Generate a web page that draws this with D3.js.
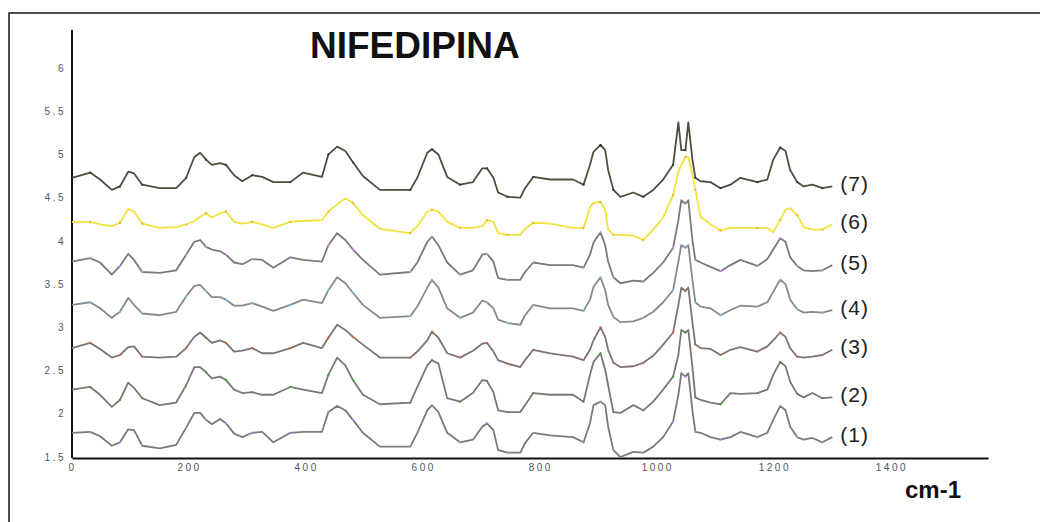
<!DOCTYPE html>
<html>
<head>
<meta charset="utf-8">
<script src="https://cdn.jsdelivr.net/npm/d3@7"></script>
<style>
html, body { margin: 0; padding: 0; background: #fff; }
svg { display: block; font-family: Arial, "Liberation Sans", sans-serif; }
</style>
</head>
<body>
<svg id="chart" width="1040" height="522"></svg>
<script>
'use strict';

// ─── Data ──────────────────────────────────────────────────────────────────
const wavenumbers = [0,31,48,68,82,96,106,120,150,178,195,209,219,229,239,253,263,277,291,308,
  325,344,373,395,427,438,453,467,480,497,526,578,590,607,615,626,641,663,685,701,
  709,720,728,744,766,774,788,817,856,874,885,891,903,911,916,925,937,959,976,993,
  1010,1027,1036,1041,1048,1053,1060,1065,1074,1091,1108,1125,1142,1171,1188,1198,1210,1219,1227,1239,
  1250,1265,1282,1299];

const spectrum1 = [1.78,1.79,1.74,1.63,1.67,1.82,1.81,1.63,1.60,1.64,
  1.84,2.01,2.01,1.93,1.88,1.94,1.89,1.77,1.73,1.78,
  1.79,1.67,1.78,1.79,1.79,2.02,2.09,2.04,1.93,1.78,
  1.62,1.62,1.78,2.04,2.10,2.02,1.78,1.67,1.70,1.85,
  1.89,1.81,1.58,1.55,1.55,1.66,1.78,1.75,1.73,1.67,
  1.89,2.10,2.14,2.10,1.85,1.58,1.50,1.56,1.55,1.62,
  1.73,1.91,2.22,2.47,2.43,2.47,2.04,1.79,1.78,1.73,
  1.70,1.73,1.79,1.73,1.78,1.93,2.09,2.04,1.85,1.73,
  1.70,1.72,1.67,1.73];

const spectrum2 = [2.28,2.31,2.22,2.08,2.16,2.36,2.30,2.18,2.10,2.13,
  2.33,2.54,2.54,2.48,2.41,2.43,2.39,2.28,2.24,2.25,
  2.22,2.22,2.31,2.28,2.24,2.45,2.65,2.56,2.39,2.22,
  2.11,2.13,2.31,2.56,2.62,2.58,2.18,2.14,2.24,2.39,
  2.38,2.25,2.04,2.02,2.02,2.10,2.24,2.22,2.22,2.14,
  2.45,2.60,2.70,2.51,2.33,2.02,2.01,2.10,2.04,2.14,
  2.28,2.43,2.68,2.97,2.94,2.97,2.54,2.19,2.16,2.13,
  2.11,2.24,2.23,2.24,2.28,2.45,2.60,2.55,2.37,2.23,
  2.19,2.24,2.18,2.19];

const spectrum3 = [2.76,2.82,2.75,2.65,2.68,2.77,2.78,2.66,2.65,2.66,
  2.76,2.89,2.94,2.88,2.82,2.85,2.82,2.72,2.73,2.76,
  2.70,2.70,2.76,2.82,2.76,2.88,3.03,2.97,2.89,2.80,
  2.65,2.65,2.72,2.85,2.95,2.88,2.70,2.65,2.73,2.81,
  2.82,2.72,2.62,2.58,2.54,2.62,2.74,2.70,2.66,2.62,
  2.74,2.85,3.00,2.89,2.74,2.59,2.54,2.55,2.59,2.67,
  2.80,2.94,3.26,3.46,3.42,3.46,3.06,2.80,2.76,2.75,
  2.68,2.74,2.77,2.72,2.78,2.85,2.94,2.89,2.76,2.66,
  2.65,2.66,2.68,2.74];

const spectrum4 = [3.26,3.29,3.22,3.11,3.18,3.34,3.26,3.16,3.14,3.18,
  3.36,3.48,3.49,3.42,3.35,3.35,3.32,3.25,3.25,3.28,
  3.24,3.19,3.26,3.32,3.28,3.43,3.58,3.51,3.40,3.26,
  3.11,3.13,3.24,3.46,3.55,3.46,3.22,3.11,3.17,3.31,
  3.29,3.22,3.09,3.05,3.03,3.14,3.26,3.22,3.22,3.19,
  3.32,3.47,3.58,3.43,3.26,3.12,3.06,3.07,3.11,3.18,
  3.29,3.43,3.76,3.95,3.92,3.95,3.55,3.29,3.24,3.22,
  3.14,3.20,3.25,3.24,3.29,3.41,3.55,3.50,3.32,3.21,
  3.17,3.18,3.17,3.20];

const spectrum5 = [3.76,3.80,3.75,3.61,3.71,3.85,3.78,3.64,3.63,3.66,
  3.84,3.99,4.01,3.93,3.90,3.88,3.84,3.75,3.73,3.79,
  3.78,3.69,3.81,3.78,3.76,3.95,4.09,4.01,3.90,3.78,
  3.61,3.64,3.75,3.99,4.05,3.95,3.75,3.61,3.66,3.84,
  3.85,3.76,3.57,3.55,3.55,3.64,3.75,3.72,3.72,3.69,
  3.84,3.98,4.10,3.95,3.76,3.58,3.51,3.54,3.53,3.63,
  3.75,3.92,4.24,4.47,4.43,4.47,4.01,3.78,3.75,3.70,
  3.65,3.72,3.78,3.71,3.79,3.90,4.03,3.99,3.81,3.71,
  3.66,3.65,3.66,3.72];

const spectrum6 = [4.22,4.22,4.19,4.17,4.21,4.37,4.34,4.20,4.15,4.16,
  4.19,4.23,4.28,4.32,4.27,4.32,4.34,4.22,4.20,4.22,
  4.19,4.15,4.22,4.23,4.24,4.34,4.42,4.49,4.44,4.30,
  4.14,4.09,4.17,4.34,4.36,4.34,4.22,4.15,4.15,4.17,
  4.24,4.22,4.09,4.07,4.07,4.14,4.21,4.20,4.15,4.15,
  4.39,4.44,4.45,4.36,4.13,4.07,4.07,4.06,4.01,4.13,
  4.27,4.53,4.80,4.88,4.97,4.97,4.76,4.59,4.28,4.19,
  4.12,4.15,4.15,4.15,4.15,4.10,4.24,4.36,4.38,4.30,
  4.16,4.13,4.13,4.19];

const spectrum7 = [4.73,4.79,4.71,4.59,4.63,4.80,4.78,4.65,4.61,4.61,
  4.73,4.97,5.02,4.94,4.88,4.90,4.88,4.76,4.69,4.76,
  4.74,4.68,4.68,4.79,4.74,5.00,5.09,5.04,4.91,4.75,
  4.59,4.59,4.73,5.02,5.06,5.00,4.74,4.65,4.68,4.84,
  4.84,4.73,4.56,4.51,4.50,4.61,4.74,4.71,4.71,4.65,
  4.88,5.03,5.11,5.05,4.82,4.59,4.51,4.56,4.51,4.59,
  4.71,4.88,5.37,5.05,5.05,5.37,4.94,4.73,4.69,4.68,
  4.61,4.65,4.73,4.68,4.71,4.94,5.08,5.04,4.82,4.68,
  4.63,4.65,4.61,4.63];

const seriesLabels = ['(1)', '(2)', '(3)', '(4)', '(5)', '(6)', '(7)'];
const xTickValues  = [0, 200, 400, 600, 800, 1000, 1200, 1400];
const yTickValues  = [1.5, 2, 2.5, 3, 3.5, 4, 4.5, 5, 5.5, 6];

// line colour + colour of the little dithering specks on each trace
const lineColors  = ['#7a7a7a', '#767a72', '#7d7470', '#858a8c', '#7d7880', '#f1e33c', '#4e4e40'];
const speckColors = ['#9c9cf0', '#3c9c2c', '#d0643c', '#7cc8f0', '#d890f0', '#e8a030', '#2c2c20'];

const series = [spectrum1, spectrum2, spectrum3, spectrum4, spectrum5, spectrum6, spectrum7]
  .map(function (vals, i) {
    return {
      label: seriesLabels[i],
      points: vals.map(function (v, j) { return [wavenumbers[j], v]; })
    };
  });

// ─── Scales ────────────────────────────────────────────────────────────────
const svg = d3.select('#chart');

const x = d3.scaleLinear().domain([0, 1565]).range([72, 988]);
const y = d3.scaleLinear().domain([1.5, 6]).range([457, 68]);

// outer frame (right/bottom edges fall outside the picture)
svg.append('rect')
  .attr('x', 9).attr('y', 13)
  .attr('width', 1045).attr('height', 530)
  .attr('fill', 'none')
  .attr('stroke', '#222')
  .attr('stroke-width', 1.6);

// ─── Axes ──────────────────────────────────────────────────────────────────
const yAxis = svg.append('g')
  .attr('transform', 'translate(' + x(0) + ',0)')
  .call(d3.axisLeft(y).tickValues(yTickValues).tickSize(0).tickPadding(6)
    .tickFormat(function (d) { return String(d); }));
yAxis.select('.domain').remove();
yAxis.selectAll('text')
  .attr('font-size', 10)
  .attr('letter-spacing', 2.5)
  .attr('fill', '#555');

svg.append('line')
  .attr('x1', x(0)).attr('x2', x(0))
  .attr('y1', y(1.5) + 1).attr('y2', y(6.44))
  .attr('stroke', '#111')
  .attr('stroke-width', 2);

const xAxis = svg.append('g')
  .attr('transform', 'translate(0,' + (y(1.5) + 1) + ')')
  .call(d3.axisBottom(x).tickValues(xTickValues).tickSize(0).tickPadding(6)
    .tickFormat(d3.format('d')));
xAxis.select('.domain')
  .attr('stroke', '#111')
  .attr('stroke-width', 2);
xAxis.selectAll('text')
  .attr('font-size', 10)
  .attr('letter-spacing', 2.5)
  .attr('fill', '#555');

// ─── Spectra ───────────────────────────────────────────────────────────────
const line = d3.line()
  .x(function (d) { return x(d[0]); })
  .y(function (d) { return y(d[1]); });

const traces = svg.append('g').attr('class', 'traces');

series.forEach(function (s, i) {
  traces.append('path')
    .datum(s.points)
    .attr('d', line)
    .attr('fill', 'none')
    .attr('stroke', lineColors[i])
    .attr('stroke-width', 1.8)
    .attr('stroke-linejoin', 'round');

  traces.selectAll('.speck-' + i)
    .data(s.points.filter(function (d, j) { return j % 3 === 1; }))
    .enter()
    .append('rect')
    .attr('class', 'speck-' + i)
    .attr('x', function (d) { return x(d[0]) - 1; })
    .attr('y', function (d) { return y(d[1]) - 1; })
    .attr('width', 2).attr('height', 2)
    .attr('fill', speckColors[i])
    .attr('opacity', 0.75);

  const last = s.points[s.points.length - 1];
  svg.append('text')
    .attr('x', x(last[0]) + 8)
    .attr('y', y(last[1]) - 3)
    .attr('dominant-baseline', 'central')
    .attr('font-size', 21)
    .attr('letter-spacing', 1)
    .attr('fill', '#222')
    .text(s.label);
});

// ─── Titles ────────────────────────────────────────────────────────────────
svg.append('text')
  .attr('x', 310).attr('y', 58)
  .attr('font-size', 37)
  .attr('font-weight', 'bold')
  .attr('fill', '#111')
  .text('NIFEDIPINA');

svg.append('text')
  .attr('x', 905).attr('y', 498)
  .attr('font-size', 24)
  .attr('font-weight', 'bold')
  .attr('fill', '#111')
  .text('cm-1');
</script>
</body>
</html>
